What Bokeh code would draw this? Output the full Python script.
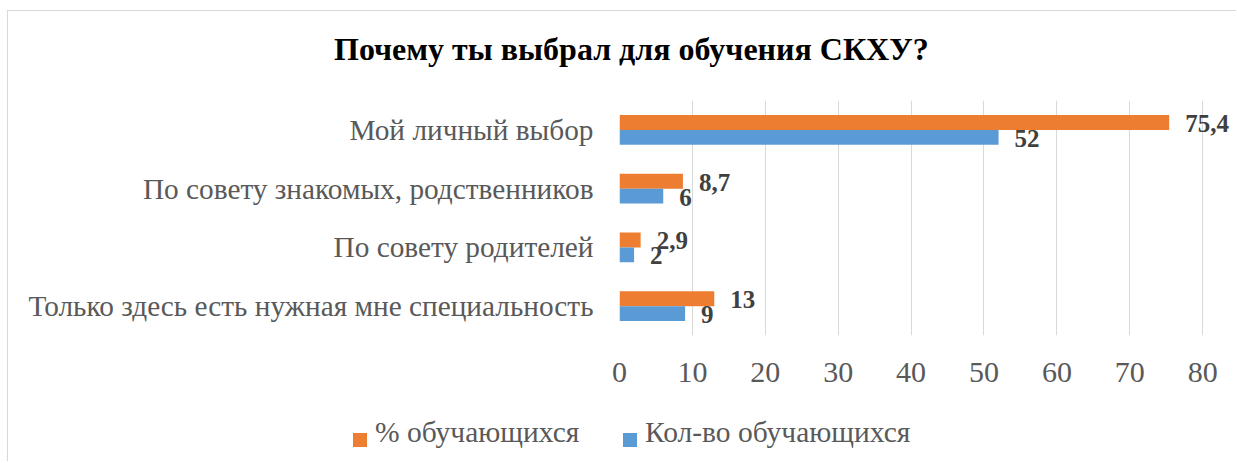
from bokeh.plotting import figure
from bokeh.layouts import column
from bokeh.models import (ColumnDataSource, FixedTicker, LabelSet, FactorRange, Range1d, Div)
from bokeh.transform import dodge
from bokeh.core.properties import value
from bokeh.embed import file_html
from bokeh.resources import INLINE

categories = ["Мой личный выбор",
              "По совету знакомых, родственников",
              "По совету родителей",
              "Только здесь есть нужная мне специальность"]
percent = [75.4, 8.7, 2.9, 13]
count = [52, 6, 2, 9]
percent_labels = ["75,4", "8,7", "2,9", "13"]
count_labels = ["52", "6", "2", "9"]
x_ticks = [0, 10, 20, 30, 40, 50, 60, 70, 80]
series_names = ["% обучающихся", "Кол-во обучающихся"]
title_text = "Почему ты выбрал для обучения СКХУ?"

ORANGE = "#ED7D31"
BLUE = "#5B9BD5"
SERIF = "Liberation Serif"
W = 1228

src = ColumnDataSource(dict(cat=categories, pct=percent, cnt=count,
                            pct_label=percent_labels, cnt_label=count_labels))

# ---- title ----
title_div = Div(width=W, height=60, margin=0, text=(
    f'<div style="position:relative;width:{W}px;height:60px;">'
    f'<span style="position:absolute;left:326px;top:22px;white-space:nowrap;'
    f'font-family:\'{SERIF}\';font-size:32px;line-height:32px;font-weight:bold;color:#000000;">'
    f'{title_text}</span></div>'))

# ---- chart ----
y_range = FactorRange(factors=list(reversed(categories)))
p = figure(width=W, height=330, y_range=y_range, x_range=Range1d(0, 84.5),
           output_backend="svg", toolbar_location=None, margin=0,
           min_border_left=611, min_border_right=1, min_border_top=29, min_border_bottom=66)
p.title.text_font_size = "1px"
p.title.standoff = 0

r_pct = p.hbar(y=dodge("cat", 0.1275, range=p.y_range), right="pct", left=0, height=0.255,
               source=src, fill_color=ORANGE, line_color=None)
r_cnt = p.hbar(y=dodge("cat", -0.1275, range=p.y_range), right="cnt", left=0, height=0.255,
               source=src, fill_color=BLUE, line_color=None)

lab_style = dict(text_font=value(SERIF), text_font_style="bold", text_font_size="25px",
                 text_color="#404040", text_baseline="middle", x_offset=16, y_offset=-1)
p.add_layout(LabelSet(x="pct", y=dodge("cat", 0.1275, range=p.y_range), text="pct_label",
                      source=src, **lab_style))
p.add_layout(LabelSet(x="cnt", y=dodge("cat", -0.1275, range=p.y_range), text="cnt_label",
                      source=src, **lab_style))

p.xaxis.ticker = FixedTicker(ticks=x_ticks)
p.xgrid.ticker = FixedTicker(ticks=x_ticks)
p.xgrid.grid_line_color = "#d9d9d9"
p.ygrid.grid_line_color = None
for ax in (p.xaxis[0], p.yaxis[0]):
    ax.axis_line_color = None
    ax.major_tick_line_color = None
    ax.minor_tick_line_color = None
    ax.major_tick_out = 0
    ax.major_tick_in = 0
    ax.major_label_text_font = SERIF
    ax.major_label_text_color = "#595959"
p.xaxis.major_label_text_font_size = "30px"
p.xaxis.major_label_standoff = 27
p.yaxis.major_label_text_font_size = "29.3px"
p.yaxis.major_label_standoff = 26

p.outline_line_color = None
p.background_fill_color = "white"
p.border_fill_color = "white"

# ---- legend ----
def legend_entry(color, name, sq_left, txt_left):
    return (f'<span style="position:absolute;left:{sq_left}px;top:32px;width:14px;height:14px;'
            f'background:{color};"></span>'
            f'<span style="position:absolute;left:{txt_left}px;top:17px;white-space:nowrap;'
            f'font-family:\'{SERIF}\';font-size:29.5px;line-height:29.5px;color:#595959;">{name}</span>')

legend_div = Div(width=W, height=60, margin=0, text=(
    f'<div style="position:relative;width:{W}px;height:60px;">'
    + legend_entry(ORANGE, series_names[0], 345, 367)
    + legend_entry(BLUE, series_names[1], 615, 637)
    + '</div>'))

layout = column(title_div, p, legend_div, spacing=0)
layout.styles = {"margin-left": "7px", "margin-top": "10px",
                 "border-left": "1px solid #d9d9d9", "border-top": "1px solid #d9d9d9"}

open("out.html", "w").write(file_html(layout, INLINE))
